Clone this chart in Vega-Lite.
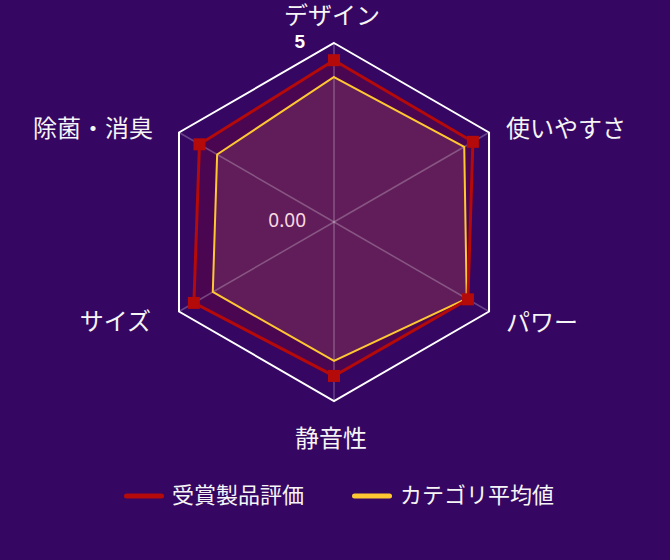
{
  "$schema": "https://vega.github.io/schema/vega-lite/v6.json",
  "width": 670,
  "height": 560,
  "padding": 0,
  "autosize": {"type": "none"},
  "background": "#350662",
  "config": {
    "view": {"stroke": null},
    "font": "Noto Sans CJK JP",
    "legend": {
      "orient": "none",
      "legendX": 124,
      "legendY": 476,
      "direction": "horizontal",
      "title": null,
      "padding": 0,
      "labelFont": "Noto Sans CJK JP",
      "labelFontSize": 22,
      "labelColor": "#f5f5f5",
      "labelOffset": 8,
      "labelLimit": 400,
      "columnPadding": 39,
      "symbolType": "stroke",
      "symbolSize": 1225,
      "symbolStrokeWidth": 5
    }
  },
  "datasets": {
    "scores": [
      {"axis": "デザイン", "series": "受賞製品評価", "value": 4.52},
      {"axis": "使いやすさ", "series": "受賞製品評価", "value": 4.48},
      {"axis": "パワー", "series": "受賞製品評価", "value": 4.32},
      {"axis": "静音性", "series": "受賞製品評価", "value": 4.30},
      {"axis": "サイズ", "series": "受賞製品評価", "value": 4.52},
      {"axis": "除菌・消臭", "series": "受賞製品評価", "value": 4.34},
      {"axis": "デザイン", "series": "カテゴリ平均値", "value": 4.05},
      {"axis": "使いやすさ", "series": "カテゴリ平均値", "value": 4.20},
      {"axis": "パワー", "series": "カテゴリ平均値", "value": 4.28},
      {"axis": "静音性", "series": "カテゴリ平均値", "value": 3.88},
      {"axis": "サイズ", "series": "カテゴリ平均値", "value": 3.91},
      {"axis": "除菌・消臭", "series": "カテゴリ平均値", "value": 3.77}
    ],
    "grid": [
      {"axis": "デザイン", "value": 5},
      {"axis": "使いやすさ", "value": 5},
      {"axis": "パワー", "value": 5},
      {"axis": "静音性", "value": 5},
      {"axis": "サイズ", "value": 5},
      {"axis": "除菌・消臭", "value": 5}
    ],
    "ticks": [
      {"axis": "デザイン", "value": 5, "label": "5"},
      {"axis": "デザイン", "value": 0, "label": "0.00"}
    ]
  },
  "encoding": {
    "x": {"field": "px", "type": "quantitative", "axis": null,
          "scale": {"domain": [-9.33, 9.385], "nice": false, "zero": false}},
    "y": {"field": "py", "type": "quantitative", "axis": null,
          "scale": {"domain": [-9.441, 6.201], "nice": false, "zero": false}}
  },
  "layer": [
    {
      "data": {"name": "grid"},
      "transform": [
        {"calculate": "indexof(['デザイン','使いやすさ','パワー','静音性','サイズ','除菌・消臭'], datum.axis)", "as": "idx"},
        {"calculate": "datum.value * sin(datum.idx * PI / 3)", "as": "px"},
        {"calculate": "datum.value * cos(datum.idx * PI / 3)", "as": "py"}
      ],
      "mark": {"type": "line", "interpolate": "linear-closed", "stroke": "#ffffff", "strokeWidth": 2},
      "encoding": {"order": {"field": "idx"}}
    },
    {
      "data": {"name": "scores"},
      "transform": [
        {"filter": "datum.series == 'カテゴリ平均値'"},
        {"calculate": "indexof(['デザイン','使いやすさ','パワー','静音性','サイズ','除菌・消臭'], datum.axis)", "as": "idx"},
        {"calculate": "datum.value * sin(datum.idx * PI / 3)", "as": "px"},
        {"calculate": "datum.value * cos(datum.idx * PI / 3)", "as": "py"}
      ],
      "mark": {"type": "line", "interpolate": "linear-closed", "fill": "#ffdcb4", "fillOpacity": 0.13, "strokeOpacity": 0},
      "encoding": {"order": {"field": "idx"}}
    },
    {
      "data": {"name": "scores"},
      "transform": [
        {"filter": "datum.series == '受賞製品評価'"},
        {"calculate": "indexof(['デザイン','使いやすさ','パワー','静音性','サイズ','除菌・消臭'], datum.axis)", "as": "idx"},
        {"calculate": "datum.value * sin(datum.idx * PI / 3)", "as": "px"},
        {"calculate": "datum.value * cos(datum.idx * PI / 3)", "as": "py"}
      ],
      "mark": {"type": "line", "interpolate": "linear-closed", "fill": "#b40c0c", "fillOpacity": 0.18, "strokeOpacity": 0},
      "encoding": {"order": {"field": "idx"}}
    },
    {
      "data": {"name": "grid"},
      "transform": [
        {"calculate": "indexof(['デザイン','使いやすさ','パワー','静音性','サイズ','除菌・消臭'], datum.axis)", "as": "idx"},
        {"calculate": "datum.value * sin(datum.idx * PI / 3)", "as": "px"},
        {"calculate": "datum.value * cos(datum.idx * PI / 3)", "as": "py"}
      ],
      "mark": {"type": "rule", "stroke": "#ffffff", "strokeOpacity": 0.25, "strokeWidth": 1.5},
      "encoding": {"x2": {"datum": 0}, "y2": {"datum": 0}}
    },
    {
      "data": {"name": "scores"},
      "transform": [
        {"filter": "datum.series == 'カテゴリ平均値'"},
        {"calculate": "indexof(['デザイン','使いやすさ','パワー','静音性','サイズ','除菌・消臭'], datum.axis)", "as": "idx"},
        {"calculate": "datum.value * sin(datum.idx * PI / 3)", "as": "px"},
        {"calculate": "datum.value * cos(datum.idx * PI / 3)", "as": "py"}
      ],
      "mark": {"type": "line", "interpolate": "linear-closed", "strokeWidth": 2},
      "encoding": {
        "order": {"field": "idx"},
        "color": {"field": "series", "type": "nominal",
                  "scale": {"domain": ["受賞製品評価", "カテゴリ平均値"], "range": ["#b40a0a", "#ffc832"]},
                  "legend": {
                    "encode": {"symbols": {"update": {
                      "strokeWidth": {"value": 5},
                      "strokeCap": {"value": "round"}
                    }}}
                  }}
      }
    },
    {
      "data": {"name": "scores"},
      "transform": [
        {"filter": "datum.series == '受賞製品評価'"},
        {"calculate": "indexof(['デザイン','使いやすさ','パワー','静音性','サイズ','除菌・消臭'], datum.axis)", "as": "idx"},
        {"calculate": "datum.value * sin(datum.idx * PI / 3)", "as": "px"},
        {"calculate": "datum.value * cos(datum.idx * PI / 3)", "as": "py"}
      ],
      "mark": {"type": "line", "interpolate": "linear-closed", "strokeWidth": 3},
      "encoding": {
        "order": {"field": "idx"},
        "color": {"field": "series", "type": "nominal"}
      }
    },
    {
      "data": {"name": "scores"},
      "transform": [
        {"filter": "datum.series == '受賞製品評価'"},
        {"calculate": "indexof(['デザイン','使いやすさ','パワー','静音性','サイズ','除菌・消臭'], datum.axis)", "as": "idx"},
        {"calculate": "datum.value * sin(datum.idx * PI / 3)", "as": "px"},
        {"calculate": "datum.value * cos(datum.idx * PI / 3)", "as": "py"}
      ],
      "mark": {"type": "square", "size": 144, "color": "#b40a0a", "opacity": 1}
    },
    {
      "data": {"name": "ticks"},
      "transform": [
        {"filter": "datum.label == '5'"},
        {"calculate": "0", "as": "px"},
        {"calculate": "datum.value", "as": "py"}
      ],
      "mark": {"type": "text", "align": "right", "baseline": "alphabetic", "dx": -29, "dy": 5,
               "font": "Liberation Sans", "fontWeight": "bold", "fontSize": 19, "color": "#ffffff"},
      "encoding": {"text": {"field": "label"}}
    },
    {
      "data": {"name": "ticks"},
      "transform": [
        {"filter": "datum.label == '0.00'"},
        {"calculate": "0", "as": "px"},
        {"calculate": "datum.value", "as": "py"}
      ],
      "mark": {"type": "text", "align": "right", "baseline": "alphabetic", "dx": -28, "dy": 5,
               "font": "Noto Sans", "fontSize": 19, "color": "#f8d8e0"},
      "encoding": {"text": {"field": "label"}}
    },
    {
      "data": {"name": "grid"},
      "transform": [
        {"filter": "datum.axis == 'デザイン'"},
        {"calculate": "0", "as": "px"},
        {"calculate": "datum.value", "as": "py"}
      ],
      "mark": {"type": "text", "align": "center", "baseline": "middle", "dx": -2, "dy": -26,
               "fontSize": 24, "color": "#f5f5f5"},
      "encoding": {"text": {"field": "axis"}}
    },
    {
      "data": {"name": "grid"},
      "transform": [
        {"filter": "datum.axis == '静音性'"},
        {"calculate": "0", "as": "px"},
        {"calculate": "-datum.value", "as": "py"}
      ],
      "mark": {"type": "text", "align": "center", "baseline": "middle", "dx": -3, "dy": 39,
               "fontSize": 24, "color": "#f5f5f5"},
      "encoding": {"text": {"field": "axis"}}
    },
    {
      "data": {"name": "grid"},
      "transform": [
        {"filter": "datum.axis == '使いやすさ'"},
        {"calculate": "datum.value * sin(PI / 3)", "as": "px"},
        {"calculate": "datum.value * cos(PI / 3)", "as": "py"}
      ],
      "mark": {"type": "text", "align": "left", "baseline": "middle", "dx": 17, "dy": -2,
               "fontSize": 24, "color": "#f5f5f5"},
      "encoding": {"text": {"field": "axis"}}
    },
    {
      "data": {"name": "grid"},
      "transform": [
        {"filter": "datum.axis == 'パワー'"},
        {"calculate": "datum.value * sin(PI / 3)", "as": "px"},
        {"calculate": "-datum.value * cos(PI / 3)", "as": "py"}
      ],
      "mark": {"type": "text", "align": "left", "baseline": "middle", "dx": 17, "dy": 12,
               "fontSize": 24, "color": "#f5f5f5"},
      "encoding": {"text": {"field": "axis"}}
    },
    {
      "data": {"name": "grid"},
      "transform": [
        {"filter": "datum.axis == 'サイズ'"},
        {"calculate": "-datum.value * sin(PI / 3)", "as": "px"},
        {"calculate": "-datum.value * cos(PI / 3)", "as": "py"}
      ],
      "mark": {"type": "text", "align": "right", "baseline": "middle", "dx": -28, "dy": 11,
               "fontSize": 24, "color": "#f5f5f5"},
      "encoding": {"text": {"field": "axis"}}
    },
    {
      "data": {"name": "grid"},
      "transform": [
        {"filter": "datum.axis == '除菌・消臭'"},
        {"calculate": "-datum.value * sin(PI / 3)", "as": "px"},
        {"calculate": "datum.value * cos(PI / 3)", "as": "py"}
      ],
      "mark": {"type": "text", "align": "right", "baseline": "middle", "dx": -26, "dy": -2,
               "fontSize": 24, "color": "#f5f5f5"},
      "encoding": {"text": {"field": "axis"}}
    }
  ]
}
